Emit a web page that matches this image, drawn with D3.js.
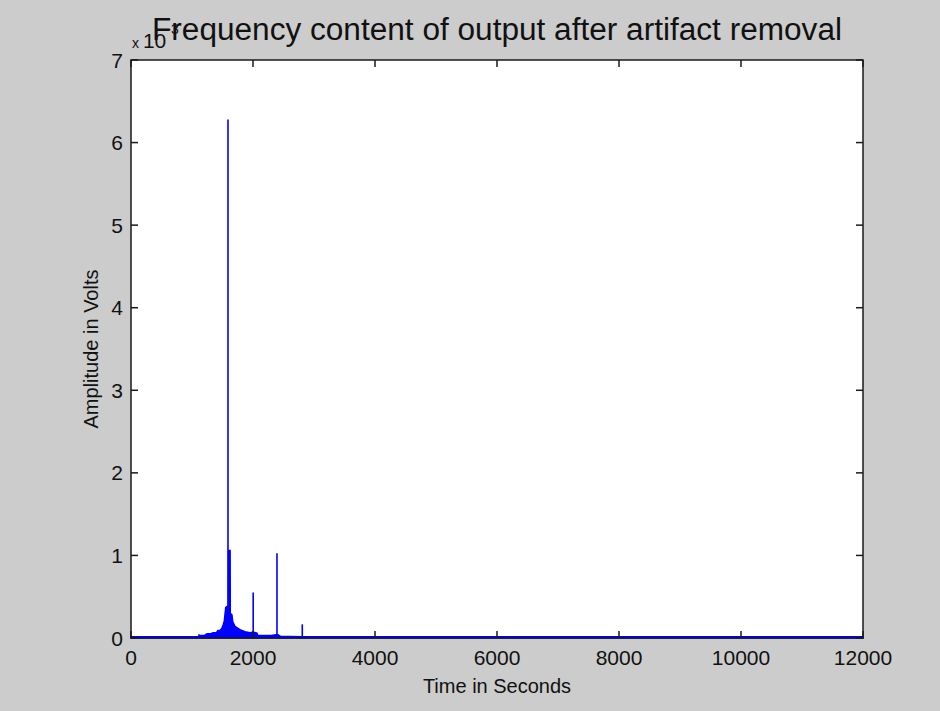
<!DOCTYPE html>
<html>
<head>
<meta charset="utf-8">
<script src="https://cdn.jsdelivr.net/npm/d3@7"></script>
<style>
  html, body { margin: 0; padding: 0; background: #cccccc; }
  svg { display: block; }
  text { font-family: "Liberation Sans", Arial, sans-serif; fill: #111; }
</style>
</head>
<body>
<svg id="chart" width="940" height="711"></svg>
<script>
// Spectrum envelope (frequency, amplitude ×10^-3): floor plus the dense band around the main peak
const envFreq = [0, 1100, 1112, 1115, 1118, 1140, 1200, 1245, 1300, 1345, 1400, 1425, 1460, 1490, 1512, 1530, 1540, 1553, 1575, 1598, 1600, 1625, 1628, 1655, 1667, 1705, 1787, 1869, 1951, 1990, 2010, 2065, 2080, 2300, 2380, 2410, 2450, 2800, 12000];
const envAmp  = [0.015, 0.015, 0.02, 0.045, 0.03, 0.03, 0.03, 0.05, 0.05, 0.065, 0.065, 0.09, 0.09, 0.12, 0.16, 0.21, 0.28, 0.37, 0.38, 0.38, 1.06, 1.06, 0.3, 0.28, 0.2, 0.14, 0.1, 0.076, 0.064, 0.07, 0.07, 0.06, 0.03, 0.03, 0.04, 0.04, 0.02, 0.015, 0.015];

// Isolated narrow peaks
const spikeFreq = [1590, 2003, 2393, 2808];
const spikeAmp  = [6.28, 0.55, 1.025, 0.166];

// Axis ticks
const xTicks = [0, 2000, 4000, 6000, 8000, 10000, 12000];
const yTicks = [0, 1, 2, 3, 4, 5, 6, 7];

const svg = d3.select("#chart");
const mLeft = 131, mRight = 863, mTop = 60, mBottom = 638;
const x = d3.scaleLinear().domain([0, 12000]).range([mLeft, mRight]);
const y = d3.scaleLinear().domain([0, 7]).range([mBottom, mTop]);

// plot background
svg.append("rect").attr("x", mLeft).attr("y", mTop)
  .attr("width", mRight - mLeft).attr("height", mBottom - mTop).attr("fill", "#ffffff");

const blue = "#0000ff";
const envData = envFreq.map((f, i) => ({f, a: envAmp[i]}));

svg.append("path").datum(envData)
  .attr("d", d3.area().x(d => x(d.f)).y0(y(0)).y1(d => y(d.a)))
  .attr("fill", blue).attr("stroke", blue).attr("stroke-width", 1.5);

svg.append("g").selectAll("line").data(spikeFreq).join("line")
  .attr("x1", d => x(d)).attr("x2", d => x(d))
  .attr("y1", y(0)).attr("y2", (d, i) => y(spikeAmp[i]))
  .attr("stroke", blue).attr("stroke-width", 1.6);

// axes with inward ticks on all four sides (box on)
const tickLen = 7;
const axisCol = "#1a1a1a";
const axg = svg.append("g").attr("stroke", axisCol).attr("stroke-width", 1.5);
axg.append("rect").attr("x", mLeft).attr("y", mTop)
  .attr("width", mRight - mLeft).attr("height", mBottom - mTop).attr("fill", "none");
xTicks.forEach(t => {
  axg.append("line").attr("x1", x(t)).attr("x2", x(t)).attr("y1", mBottom).attr("y2", mBottom - tickLen);
  axg.append("line").attr("x1", x(t)).attr("x2", x(t)).attr("y1", mTop).attr("y2", mTop + tickLen);
});
yTicks.forEach(t => {
  axg.append("line").attr("x1", mLeft).attr("x2", mLeft + tickLen).attr("y1", y(t)).attr("y2", y(t));
  axg.append("line").attr("x1", mRight).attr("x2", mRight - tickLen).attr("y1", y(t)).attr("y2", y(t));
});

// tick labels
svg.append("g").selectAll("text").data(xTicks).join("text")
  .attr("x", d => x(d)).attr("y", 665)
  .attr("text-anchor", "middle").attr("font-size", 21).text(d => d);
svg.append("g").selectAll("text").data(yTicks).join("text")
  .attr("x", 123).attr("y", d => y(d) + 7.5)
  .attr("text-anchor", "end").attr("font-size", 21).text(d => d);

// axis labels
svg.append("text").attr("x", (mLeft + mRight) / 2).attr("y", 693)
  .attr("text-anchor", "middle").attr("font-size", 20).text("Time in Seconds");
svg.append("text")
  .attr("transform", `translate(98, ${(mTop + mBottom) / 2}) rotate(-90)`)
  .attr("text-anchor", "middle").attr("font-size", 20).text("Amplitude in Volts");

// exponent multiplier (partly covered by the title)
const ex = svg.append("text").attr("x", 132).attr("y", 48);
ex.append("tspan").attr("font-size", 14).text("x ");
ex.append("tspan").attr("font-size", 21).text("10");
ex.append("tspan").attr("font-size", 14).attr("dy", -14).text("-3");

// title
svg.append("text").attr("x", (mLeft + mRight) / 2).attr("y", 40)
  .attr("text-anchor", "middle").attr("font-size", 31).attr("fill", "#000")
  .attr("textLength", 690).attr("lengthAdjust", "spacingAndGlyphs")
  .text("Frequency content of output after artifact removal");
</script>
</body>
</html>
